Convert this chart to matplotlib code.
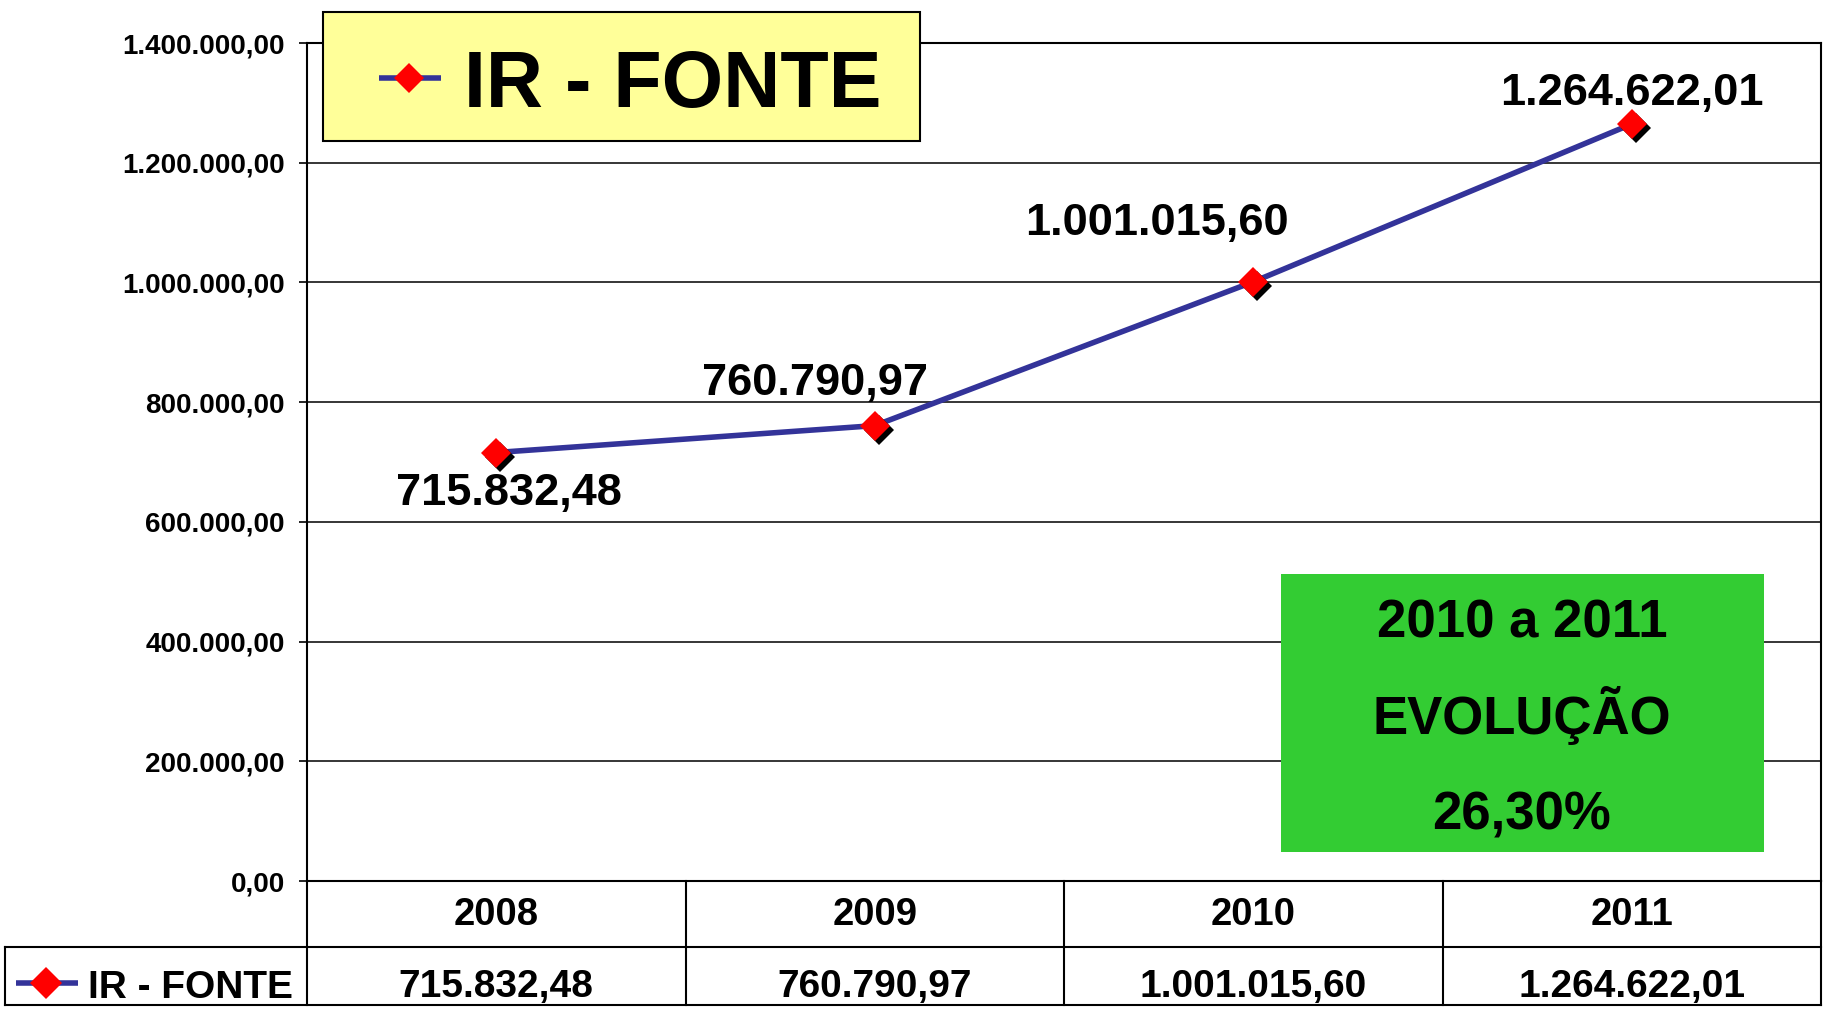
import matplotlib
matplotlib.use("Agg")
import matplotlib.pyplot as plt
from matplotlib.patches import Rectangle
from matplotlib.lines import Line2D
from matplotlib.transforms import Affine2D, offset_copy
from matplotlib.ticker import FuncFormatter

plt.rcParams['font.family'] = ['Liberation Sans', 'DejaVu Sans']
plt.rcParams['font.weight'] = 'bold'

# ---- data ----
years = ["2008", "2009", "2010", "2011"]
ir_fonte = [715832.48, 760790.97, 1001015.60, 1264622.01]
series_name = "IR - FONTE"
y_ticks = [0, 200000, 400000, 600000, 800000, 1000000, 1200000, 1400000]
box_lines = ["2010 a 2011", "EVOLUÇÃO", "26,30%"]

LINE_C = '#333399'
W, H = 1826, 1009
MS = 15.5


def br(v):
    s = f"{v:,.2f}"
    return s.replace(',', 'X').replace('.', ',').replace('X', '.')


fig = plt.figure(figsize=(W / 100, H / 100), dpi=100)
T = Affine2D().scale(1 / W, -1 / H).translate(0, 1) + fig.transFigure

L, R, TOP, BOT, TBOT = 307, 1821, 43, 881, 1005
ax = fig.add_axes([L / W, 1 - BOT / H, (R - L) / W, (BOT - TOP) / H])
x = list(range(len(years)))
ax.set_xlim(-0.5, len(years) - 0.5)
ax.set_ylim(y_ticks[0], y_ticks[-1])
ax.set_yticks(y_ticks)
ax.yaxis.set_major_formatter(FuncFormatter(lambda v, p: br(v)))
ax.set_xticks([])
ax.grid(axis='y', color='black', lw=1.1)
ax.set_axisbelow(True)
for s in ax.spines.values():
    s.set_color('black')
    s.set_linewidth(1.5)
ax.tick_params(axis='y', direction='out', length=6, width=1.2, pad=10,
               labelsize=20, colors='black')

ax.plot(x, ir_fonte, color=LINE_C, lw=4, zorder=3, solid_capstyle='butt')
shadow = offset_copy(ax.transData, fig=fig, x=4, y=-4, units='dots')
ax.plot(x, ir_fonte, ls='none', marker='D', ms=MS, mew=0, color='black',
        transform=shadow, zorder=4)
ax.plot(x, ir_fonte, ls='none', marker='D', ms=MS, mew=0, color='red', zorder=5)

label_offsets = [(13, -52), (-60, 31), (-96, 47), (0, 19)]
for xi, v, off in zip(x, ir_fonte, label_offsets):
    ax.annotate(br(v), (xi, v), xytext=off, textcoords='offset pixels',
                ha='center', va='baseline', fontsize=32.5, fontweight='bold',
                zorder=6)

# ---- green box ----
fig.add_artist(Rectangle((1281, 574), 483, 278, transform=T,
                         facecolor='#33CC33', edgecolor='none', zorder=2))
for txt, yb in zip(box_lines, [637, 734, 830]):
    fig.text(1522, yb, txt, transform=T, ha='center', va='baseline',
             fontsize=38, fontweight='bold', zorder=3)

# ---- legend box ----
fig.add_artist(Rectangle((323, 12), 597, 129, transform=T,
                         facecolor='#FFFF99', edgecolor='black', lw=1.5, zorder=2))
fig.add_artist(Line2D([379, 441], [78, 78], transform=T, color=LINE_C, lw=4,
                      zorder=3, solid_capstyle='butt'))
fig.add_artist(Line2D([409], [78], transform=T, ls='none', marker='D', ms=MS,
                      mew=0, color='red', zorder=4))
fig.text(464, 107, series_name, transform=T, ha='left', va='baseline',
         fontsize=57, fontweight='bold', zorder=3)

# ---- data table ----
tax = fig.add_axes([L / W, 1 - TBOT / H, (R - L) / W, (TBOT - BOT) / H])
tax.set_xlim(-0.5, len(years) - 0.5)
tax.set_ylim(0, TBOT - BOT)
tax.axis('off')
lk = dict(color='black', lw=1.5, clip_on=False, solid_capstyle='projecting')
for b in [i - 0.5 for i in range(len(years) + 1)]:
    tax.plot([b, b], [0, TBOT - BOT], **lk)
for i, (yr, v) in enumerate(zip(years, ir_fonte)):
    tax.text(i, 80, yr, ha='center', va='baseline', fontsize=27.5, fontweight='bold')
    tax.text(i, 8, br(v), ha='center', va='baseline', fontsize=28, fontweight='bold')
# horizontal rows incl. legend cell
for yy in [947, TBOT]:
    fig.add_artist(Line2D([5, R], [yy, yy], transform=T, color='black', lw=1.5))
fig.add_artist(Line2D([5, 5], [947, TBOT], transform=T, color='black', lw=1.5))
fig.add_artist(Line2D([16, 78], [983, 983], transform=T, color=LINE_C, lw=4,
                      solid_capstyle='butt'))
fig.add_artist(Line2D([46], [983], transform=T, ls='none', marker='D', ms=16,
                      mew=0, color='red', zorder=4))
fig.text(88, 998, series_name, transform=T, ha='left', va='baseline',
         fontsize=28, fontweight='bold')

fig.savefig("out.png", dpi=100)
